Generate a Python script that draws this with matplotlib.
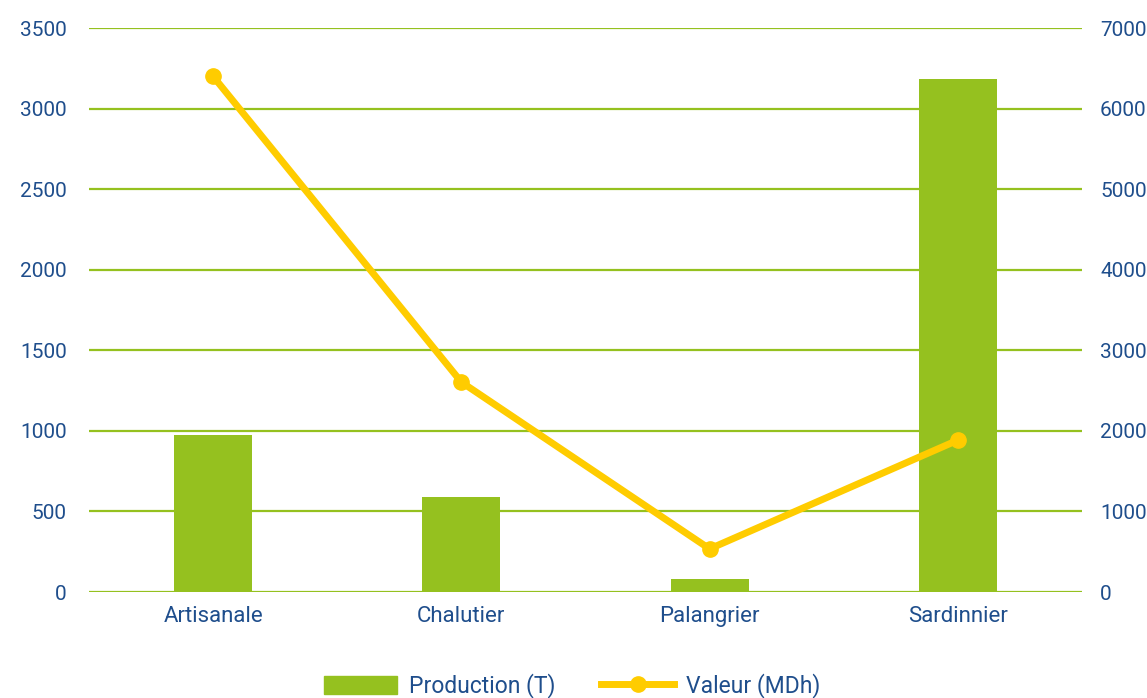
import matplotlib.pyplot as plt
from matplotlib.lines import Line2D
from matplotlib.patches import Patch

categories = ["Artisanale", "Chalutier", "Palangrier", "Sardinnier"]
production = [975, 590, 80, 3185]
valeur = [6400, 2605, 535, 1885]

green = "#95c11f"
yellow = "#ffcc00"
blue = "#1f4e8c"

plt.rcParams['font.family'] = ['Roboto', 'DejaVu Sans']

fig = plt.figure(figsize=(11.47, 6.98), dpi=100)
ax = fig.add_axes([89 / 1147, 1 - 592 / 698, (1082 - 89) / 1147, (592 - 28) / 698])
ax2 = ax.twinx()

x = list(range(len(categories)))
ax.bar(x, production, width=0.315, color=green, zorder=2)
ax.set_ylim(0, 3500)
ax.set_xlim(-0.5, len(categories) - 0.5)
ax.set_yticks(range(0, 3501, 500))
ax.yaxis.grid(True, color=green, linewidth=1.6, zorder=0)
ax.set_axisbelow(True)
ax.set_xticks(x)
ax.set_xticklabels(categories)

ax2.plot(x, valeur, color=yellow, linewidth=5, marker='o', markersize=11,
         zorder=3)
ax2.set_ylim(0, 7000)
ax2.set_yticks(range(0, 7001, 1000))

for a in (ax, ax2):
    for s in a.spines.values():
        s.set_visible(False)
    a.tick_params(length=0, labelsize=15, labelcolor=blue)
ax.tick_params(axis='y', pad=16)
ax2.tick_params(axis='y', pad=13)
ax.tick_params(axis='x', pad=10, labelsize=16)

handles = [Patch(color=green, label="Production (T)"),
           Line2D([], [], color=yellow, linewidth=5, marker='o', markersize=11,
                  label="Valeur (MDh)")]
leg = fig.legend(handles=handles, loc='center', bbox_to_anchor=(572 / 1147, 1 - 686 / 698),
                 ncol=2, frameon=False, fontsize=16.5, handlelength=3.2,
                 handleheight=0.85, columnspacing=2.0, handletextpad=0.5)
for t in leg.get_texts():
    t.set_color(blue)

fig.savefig("out.png", dpi=100)
